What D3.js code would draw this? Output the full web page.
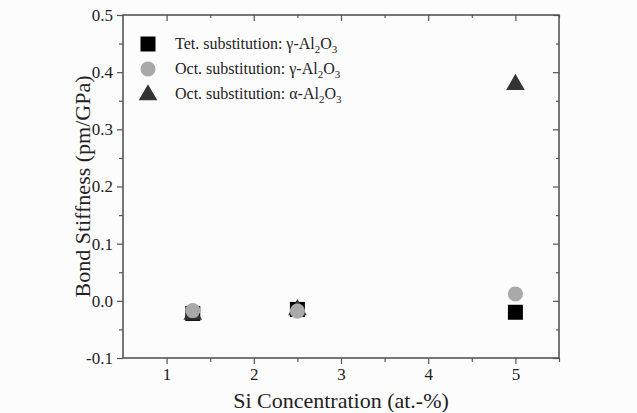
<!DOCTYPE html>
<html>
<head>
<meta charset="utf-8">
<script src="https://cdn.jsdelivr.net/npm/d3@7"></script>
<style>
  body { margin: 0; background: #fdfcfd; }
</style>
</head>
<body>
<script>
// values
const xTicks = [1, 2, 3, 4, 5];
const yTicks = [-0.1, 0.0, 0.1, 0.2, 0.3, 0.4, 0.5];

const tetGamma = [[1.3, -0.022], [2.5, -0.015], [5, -0.02]];
const octAlpha = [[1.3, -0.022], [2.5, -0.014], [5, 0.38]];
const octGamma = [[1.3, -0.017], [2.5, -0.018], [5, 0.012]];

const legendItems = [
    {shape: "square", color: "#000", label: "Tet. substitution: ", greek: "γ"},
    {shape: "circle", color: "#a9a9a9", label: "Oct. substitution: ", greek: "γ"},
    {shape: "triangle", color: "#333", label: "Oct. substitution: ", greek: "α"}
];

const width = 637, height = 413;
const margin = {top: 15, right: 78, bottom: 55, left: 123};
const serif = "Liberation Serif, Times New Roman, DejaVu Serif, serif";

const svg = d3.select("body").append("svg")
    .attr("width", width)
    .attr("height", height)
    .attr("font-family", serif);

const x = d3.scaleLinear().domain([0.5, 5.5]).range([margin.left, width - margin.right]);
const y = d3.scaleLinear().domain([-0.1, 0.5]).range([height - margin.bottom, margin.top]);

const axisColor = "#555";
const fmtY = d => d.toFixed(1).replace("−", "-");
const xMinor = d3.range(1, 5.51, 0.5).filter(v => !xTicks.includes(v));
const yMinor = d3.range(-0.05, 0.5, 0.1).map(v => +v.toFixed(2));

function styleAxis(g){
    g.attr("font-family", serif).attr("font-size", 17);
    g.select(".domain").remove();
    g.selectAll("line").attr("stroke", axisColor).attr("stroke-width", 1.2);
    g.selectAll("text").attr("fill", "#222").attr("font-family", serif).attr("font-size", 17);
}

// bottom
svg.append("g").attr("transform", `translate(0,${y(-0.1)})`)
    .call(d3.axisBottom(x).tickValues(xTicks).tickSize(6).tickPadding(4).tickFormat(d3.format("d")))
    .call(styleAxis);
svg.append("g").attr("transform", `translate(0,${y(-0.1)})`)
    .call(d3.axisBottom(x).tickValues(xMinor).tickSize(4).tickFormat(""))
    .call(styleAxis);
// top (inward)
svg.append("g").attr("transform", `translate(0,${y(0.5)})`)
    .call(d3.axisBottom(x).tickValues(xTicks).tickSize(6).tickFormat(""))
    .call(styleAxis);
svg.append("g").attr("transform", `translate(0,${y(0.5)})`)
    .call(d3.axisBottom(x).tickValues(xMinor).tickSize(3).tickFormat(""))
    .call(styleAxis);
// left
svg.append("g").attr("transform", `translate(${x(0.5)},0)`)
    .call(d3.axisLeft(y).tickValues(yTicks).tickSize(6).tickPadding(4).tickFormat(fmtY))
    .call(styleAxis);
svg.append("g").attr("transform", `translate(${x(0.5)},0)`)
    .call(d3.axisLeft(y).tickValues(yMinor).tickSize(4).tickFormat(""))
    .call(styleAxis);
// right (inward)
svg.append("g").attr("transform", `translate(${x(5.5)},0)`)
    .call(d3.axisLeft(y).tickValues(yTicks).tickSize(6).tickFormat(""))
    .call(styleAxis);
svg.append("g").attr("transform", `translate(${x(5.5)},0)`)
    .call(d3.axisLeft(y).tickValues(yMinor).tickSize(3).tickFormat(""))
    .call(styleAxis);

// frame
svg.append("rect")
    .attr("x", x(0.5)).attr("y", y(0.5))
    .attr("width", x(5.5) - x(0.5)).attr("height", y(-0.1) - y(0.5))
    .attr("fill", "none").attr("stroke", axisColor).attr("stroke-width", 1.6);

// symbols
const symSquare = d3.symbol(d3.symbolSquare, 225);
const symTriangle = d3.symbol(d3.symbolTriangle, 150);
const symCircle = d3.symbol(d3.symbolCircle, 180);

function drawSeries(data, sym, color, dy){
    svg.append("g").selectAll("path")
        .data(data)
        .enter().append("path")
        .attr("d", sym)
        .attr("fill", color)
        .attr("transform", d => `translate(${x(d[0])},${y(d[1]) + (dy || 0)})`);
}

drawSeries(tetGamma, symSquare, "#000");
drawSeries(octAlpha, symTriangle, "#333", 1);
drawSeries(octGamma, symCircle, "#a9a9a9");

// legend
const legend = svg.append("g").attr("transform", "translate(148,44)");
const legendSym = {square: symSquare, circle: symCircle, triangle: symTriangle};
legendItems.forEach((item, i) => {
    const row = legend.append("g").attr("transform", `translate(0,${i * 25})`);
    row.append("path")
        .attr("d", legendSym[item.shape])
        .attr("fill", item.color)
        .attr("transform", item.shape === "triangle" ? "translate(0,1)" : null);
    const t = row.append("text")
        .attr("x", 27).attr("y", 5)
        .attr("font-size", 16)
        .attr("fill", "#222");
    t.append("tspan").text(item.label + item.greek + "-Al");
    t.append("tspan").attr("font-size", 11).attr("dy", 4).text("2");
    t.append("tspan").attr("dy", -4).text("O");
    t.append("tspan").attr("font-size", 11).attr("dy", 4).text("3");
});

// axis titles
svg.append("text")
    .attr("x", x(3)).attr("y", 408)
    .attr("text-anchor", "middle")
    .attr("font-size", 22)
    .attr("fill", "#222")
    .text("Si Concentration (at.-%)");

svg.append("text")
    .attr("transform", `translate(90,${(y(0.5) + y(-0.1)) / 2}) rotate(-90)`)
    .attr("text-anchor", "middle")
    .attr("font-size", 22)
    .attr("fill", "#222")
    .text("Bond Stiffness (pm/GPa)");
</script>
</body>
</html>
